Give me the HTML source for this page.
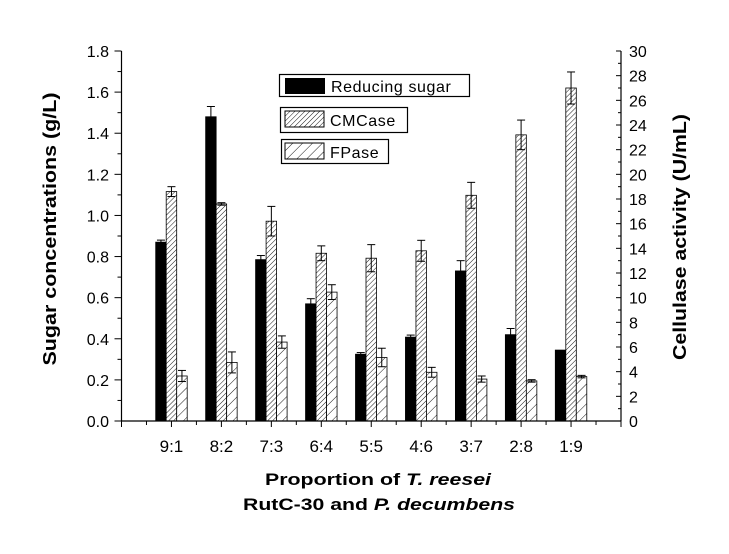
<!DOCTYPE html>
<html><head><meta charset="utf-8"><style>
html,body{margin:0;padding:0;background:#fff;}
svg{display:block;font-family:"Liberation Sans",Arial,sans-serif;}
</style></head><body>
<svg id="chart" width="729" height="554" viewBox="0 0 729 554" xmlns="http://www.w3.org/2000/svg">
<defs>
<pattern id="hatchDense" patternUnits="userSpaceOnUse" width="3.5" height="3.5" patternTransform="rotate(45)">
<rect width="3.5" height="3.5" fill="#fff"/><line x1="0" y1="0" x2="0" y2="3.5" stroke="#000" stroke-width="0.9"/>
</pattern>
<pattern id="hatchSparse" patternUnits="userSpaceOnUse" width="7" height="7" patternTransform="rotate(45)">
<rect width="7" height="7" fill="#fff"/><line x1="0" y1="0" x2="0" y2="7" stroke="#000" stroke-width="0.9"/>
</pattern>
</defs>
<g id="plot"></g>
<g>
<rect x="279.5" y="74.5" width="190" height="22" fill="#fff" stroke="#000" stroke-width="1.2"/>
<rect x="285" y="78" width="40" height="16" fill="#000"/>
<text x="331" y="92" font-size="16" letter-spacing="0.6">Reducing sugar</text>
<rect x="280.5" y="107.5" width="127" height="25" fill="#fff" stroke="#000" stroke-width="1.2"/>
<rect x="285" y="111" width="39" height="16" fill="url(#hatchDense)" stroke="#000"/>
<text x="330" y="126" font-size="16" letter-spacing="0.6">CMCase</text>
<rect x="281.5" y="139.5" width="107" height="24" fill="#fff" stroke="#000" stroke-width="1.2"/>
<rect x="285" y="143" width="39" height="16" fill="url(#hatchSparse)" stroke="#000"/>
<text x="330" y="158" font-size="16" letter-spacing="0.6">FPase</text>
</g>
<text transform="translate(56,229) rotate(-90)" text-anchor="middle" font-size="18" font-weight="bold" textLength="273" lengthAdjust="spacingAndGlyphs">Sugar concentrations (g/L)</text>
<text transform="translate(686,237) rotate(-90)" text-anchor="middle" font-size="18" font-weight="bold" textLength="246" lengthAdjust="spacingAndGlyphs">Cellulase activity (U/mL)</text>
<text x="265" y="485" font-size="17" font-weight="bold" textLength="226" lengthAdjust="spacingAndGlyphs">Proportion of <tspan font-style="italic">T. reesei</tspan></text>
<text x="243" y="510" font-size="17" font-weight="bold" textLength="272" lengthAdjust="spacingAndGlyphs">RutC-30 and <tspan font-style="italic">P. decumbens</tspan></text>
</svg>
<script>
const categories = ["9:1","8:2","7:3","6:4","5:5","4:6","3:7","2:8","1:9"];
const sugarValues = [0.87,1.48,0.785,0.57,0.325,0.408,0.73,0.42,0.345];
const sugarErrors = [0.01,0.05,0.02,0.025,0.008,0.01,0.05,0.03,0];
const cmcaseValues = [18.6,17.6,16.2,13.6,13.2,13.8,18.3,23.2,27.0];
const cmcaseErrors = [0.4,0.1,1.2,0.6,1.1,0.85,1.05,1.2,1.3];
const fpaseValues = [3.65,4.75,6.4,10.45,5.15,3.95,3.4,3.25,3.6];
const fpaseErrors = [0.45,0.85,0.5,0.6,0.75,0.4,0.25,0.1,0.1];
const leftTicks = ["0.0","0.2","0.4","0.6","0.8","1.0","1.2","1.4","1.6","1.8"];
const rightTicks = ["0","2","4","6","8","10","12","14","16","18","20","22","24","26","28","30"];

const NS="http://www.w3.org/2000/svg";
const X0=121.5, X1=621, Y0=421, Y1=51;
const yL=v=>Y0-(v/1.8)*(Y0-Y1);
const yR=v=>Y0-(v/30)*(Y0-Y1);
const xC=i=>X0+(X1-X0)*(i+1)/10;
const plot=document.getElementById('plot');
function mk(tag,attrs){const e=document.createElementNS(NS,tag);for(const k in attrs)e.setAttribute(k,attrs[k]);plot.appendChild(e);return e;}
const BW=10.5;
function bar(x,yTop,fill,name){
  const r=mk('rect',{x:x,y:yTop,width:BW,height:Y0-yTop,fill:fill,stroke:'#000','stroke-width':0.8});
  
  
}
function err(cx,yv,ye,name){
  if(Math.abs(yv-ye)<0.5)return;
  const g=document.createElementNS(NS,'g');plot.appendChild(g);
  
  
  const yl=2*yv-ye;
  [[cx,ye,cx,yl],[cx-4,ye,cx+4,ye],[cx-4,yl,cx+4,yl]].forEach(a=>{
    const l=document.createElementNS(NS,'line');
    l.setAttribute('x1',a[0]);l.setAttribute('y1',a[1]);l.setAttribute('x2',a[2]);l.setAttribute('y2',a[3]);
    l.setAttribute('stroke','#000');l.setAttribute('stroke-width','1');g.appendChild(l);
  });
}
categories.forEach((c,i)=>{
  const cx=xC(i);
  const x1=cx-BW*1.5, x2=cx-BW/2, x3=cx+BW/2;
  bar(x1,yL(sugarValues[i]),'#000','bar-reducing-sugar-'+c);
  bar(x2,yR(cmcaseValues[i]),'url(#hatchDense)','bar-cmcase-'+c);
  bar(x3,yR(fpaseValues[i]),'url(#hatchSparse)','bar-fpase-'+c);
  err(x1+BW/2,yL(sugarValues[i]),yL(sugarValues[i]+sugarErrors[i]),'error-reducing-sugar-'+c);
  err(x2+BW/2,yR(cmcaseValues[i]),yR(cmcaseValues[i]+cmcaseErrors[i]),'error-cmcase-'+c);
  err(x3+BW/2,yR(fpaseValues[i]),yR(fpaseValues[i]+fpaseErrors[i]),'error-fpase-'+c);
  const t=mk('text',{x:cx,y:452,'text-anchor':'middle','font-size':17});
  t.textContent=c;
  
  
});
const ax=mk('line',{x1:X0,y1:Y1,x2:X0,y2:Y0,stroke:'#000','stroke-width':1.2});


const ar=mk('line',{x1:X1,y1:Y1,x2:X1,y2:Y0,stroke:'#000','stroke-width':1.2});


const axb=mk('line',{x1:X0,y1:Y0,x2:X1,y2:Y0,stroke:'#000','stroke-width':1.2});


for(let k=0;k<=20;k++){
  const x=X0+(X1-X0)*k/20;
  const l=mk('line',{x1:x,y1:Y0,x2:x,y2:Y0+(k%2==0?6:4),stroke:'#000','stroke-width':1});
  
  
}
leftTicks.forEach((s,i)=>{
  const v=parseFloat(s), y=yL(v);
  const l=mk('line',{x1:X0-7,y1:y,x2:X0,y2:y,stroke:'#000','stroke-width':1});
  
  
  if(i<leftTicks.length-1){const m=mk('line',{x1:X0-4,y1:yL(v+0.1),x2:X0,y2:yL(v+0.1),stroke:'#000','stroke-width':1});
    
    }
  const t=mk('text',{x:109,y:y+6,'text-anchor':'end','font-size':16});
  t.textContent=s;
  
  
});
rightTicks.forEach((s,i)=>{
  const v=parseFloat(s), y=yR(v);
  const l=mk('line',{x1:X1-5,y1:y,x2:X1,y2:y,stroke:'#000','stroke-width':1});
  
  
  if(i<rightTicks.length-1){const m=mk('line',{x1:X1-3,y1:yR(v+1),x2:X1,y2:yR(v+1),stroke:'#000','stroke-width':1});
    
    }
  const t=mk('text',{x:629,y:y+6,'font-size':16});
  t.textContent=s;
  
  
});
</script>
</body></html>
